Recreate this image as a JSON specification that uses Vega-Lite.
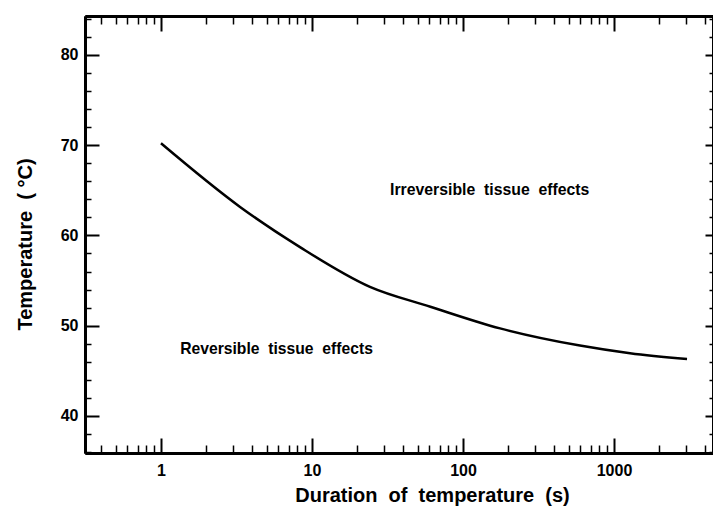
{
  "$schema": "https://vega.github.io/schema/vega-lite/v6.json",
  "width": 628,
  "height": 437,
  "autosize": "none",
  "padding": {"left": 85, "top": 16, "right": 0, "bottom": 57},
  "background": "white",
  "config": {
    "view": {"stroke": null},
    "font": "Liberation Sans",
    "axis": {"grid": false, "domainColor": "black", "tickColor": "black", "domainWidth": 3, "labelColor": "black", "titleColor": "black", "labelFont": "Liberation Sans", "titleFont": "Liberation Sans", "labelFontWeight": "bold", "titleFontWeight": "bold"}
  },
  "datasets": {
    "curve": [
      {"duration": 1, "temp": 70.2},
      {"duration": 3.34, "temp": 63.15},
      {"duration": 8.33, "temp": 58.7},
      {"duration": 24.2, "temp": 54.3},
      {"duration": 60.8, "temp": 52.1},
      {"duration": 176, "temp": 49.7},
      {"duration": 595, "temp": 47.8},
      {"duration": 1277, "temp": 46.95},
      {"duration": 3045, "temp": 46.3}
    ],
    "lab1": [{"duration": 32.9, "temp": 65.0, "label": "Irreversible\u00a0 tissue\u00a0 effects"}],
    "lab2": [{"duration": 1.34, "temp": 47.4, "label": "Reversible\u00a0 tissue\u00a0 effects"}]
  },
  "resolve": {"axis": {"x": "independent", "y": "independent"}},
  "layer": [
    {
      "data": {"name": "curve"},
      "mark": {"type": "line", "color": "black", "strokeWidth": 2.5, "interpolate": "monotone", "clip": true},
      "encoding": {
        "x": {"field": "duration", "type": "quantitative",
              "scale": {"type": "log", "domain": [0.314, 4525], "nice": false, "zero": false},
              "axis": {"orient": "bottom", "values": [1, 10, 100, 1000], "format": "d", "tickSize": -15, "tickWidth": 2,
                       "labelFontSize": 16, "labelPadding": 24, "labelFlush": false,
                       "title": "Duration\u00a0 of\u00a0 temperature\u00a0 (s)", "titleFontSize": 20, "titlePadding": 7, "titleX": 347}},
        "y": {"field": "temp", "type": "quantitative",
              "scale": {"domain": [35.9, 84.3], "nice": false, "zero": false},
              "axis": {"orient": "left", "values": [40, 50, 60, 70, 80], "tickSize": -14, "tickWidth": 2,
                       "labelFontSize": 16, "labelPadding": 21, "labelFlush": false,
                       "title": "Temperature\u00a0 (\u00a0°C)", "titleFontSize": 20, "titlePadding": 25, "titleY": 228}}
      }
    },
    {
      "data": {"name": "lab1"},
      "mark": {"type": "text", "align": "left", "baseline": "middle", "fontSize": 15.8, "fontWeight": "bold", "color": "black"},
      "encoding": {
        "x": {"field": "duration", "type": "quantitative",
              "axis": {"orient": "top", "values": [1, 10, 100, 1000], "labels": false, "tickSize": -15, "tickWidth": 2, "title": null}},
        "y": {"field": "temp", "type": "quantitative",
              "axis": {"orient": "right", "values": [40, 50, 60, 70, 80], "labels": false, "tickSize": -8, "tickWidth": 2, "title": null}},
        "text": {"field": "label"}
      }
    },
    {
      "data": {"name": "lab2"},
      "mark": {"type": "text", "align": "left", "baseline": "middle", "fontSize": 15.7, "fontWeight": "bold", "color": "black"},
      "encoding": {
        "x": {"field": "duration", "type": "quantitative",
              "axis": {"orient": "bottom", "values": [0.4, 0.5, 0.6, 0.7, 0.8, 0.9, 2, 3, 4, 5, 6, 7, 8, 9, 20, 30, 40, 50, 60, 70, 80, 90, 200, 300, 400, 500, 600, 700, 800, 900, 2000, 3000, 4000], "labels": false, "tickSize": -8, "tickWidth": 1.5, "title": null}},
        "y": {"field": "temp", "type": "quantitative",
              "axis": {"orient": "left", "values": [36, 38, 42, 44, 46, 48, 52, 54, 56, 58, 62, 64, 66, 68, 72, 74, 76, 78, 82, 84], "labels": false, "tickSize": -6, "tickWidth": 1.5, "title": null}},
        "text": {"field": "label"}
      }
    },
    {
      "data": {"name": "curve"},
      "mark": {"type": "line", "color": "black", "strokeWidth": 2.5, "interpolate": "monotone", "strokeOpacity": 0},
      "encoding": {
        "x": {"field": "duration", "type": "quantitative",
              "axis": {"orient": "top", "values": [0.4, 0.5, 0.6, 0.7, 0.8, 0.9, 2, 3, 4, 5, 6, 7, 8, 9, 20, 30, 40, 50, 60, 70, 80, 90, 200, 300, 400, 500, 600, 700, 800, 900, 2000, 3000, 4000], "labels": false, "tickSize": -8, "tickWidth": 1.5, "title": null}},
        "y": {"field": "temp", "type": "quantitative",
              "axis": {"orient": "right", "values": [36, 38, 42, 44, 46, 48, 52, 54, 56, 58, 62, 64, 66, 68, 72, 74, 76, 78, 82, 84], "labels": false, "tickSize": -4, "tickWidth": 1.5, "title": null}}
      }
    }
  ]
}
